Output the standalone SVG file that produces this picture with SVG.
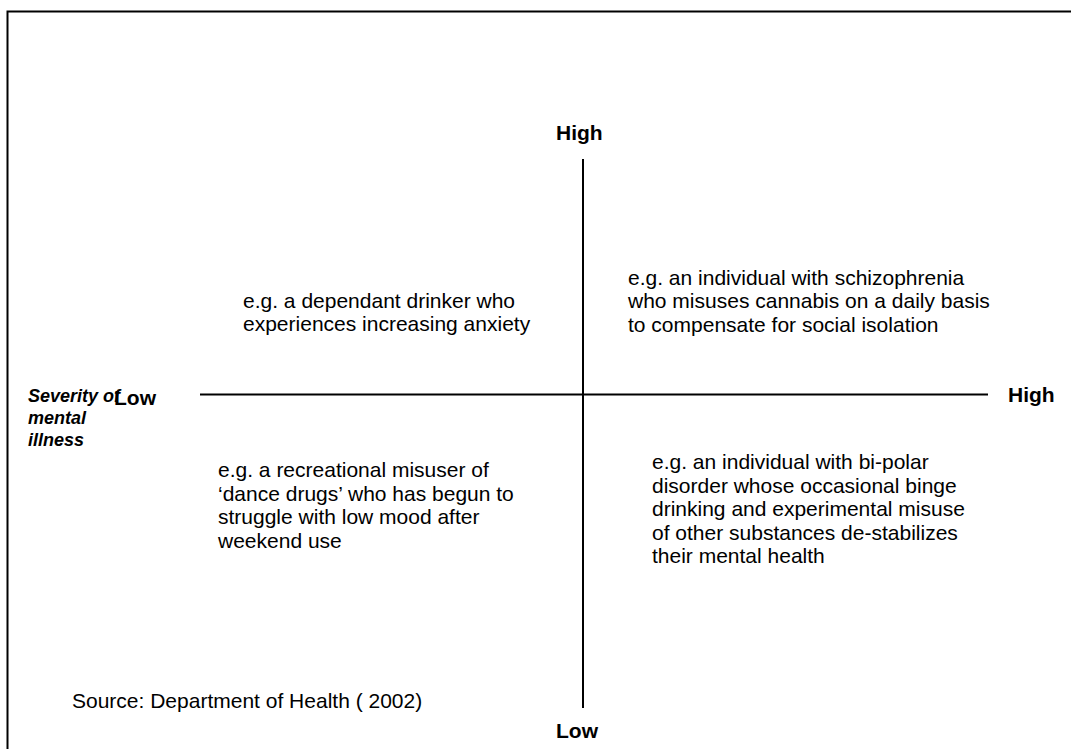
<svg xmlns="http://www.w3.org/2000/svg" width="1071" height="749" viewBox="0 0 1071 749">
  <style>
    .frame { fill: none; stroke: #000; stroke-width: 2; }
    .axis { stroke: #000; stroke-width: 2; fill: none; }
    .body { font-family: "Liberation Sans", Arial, sans-serif; font-size: 21px; fill: #000; }
    .axislabel { font-family: "Liberation Sans", Arial, sans-serif; font-size: 21px; font-weight: bold; fill: #000; }
    .title { font-family: "Liberation Sans", Arial, sans-serif; font-size: 18px; font-weight: bold; font-style: italic; fill: #000; }
  </style>
  <rect width="1071" height="749" fill="#fff"/>
  <!-- outer frame, running off the right and bottom edges -->
  <path class="frame" d="M7.5 760 V11.5 H1080"/>

  <!-- axes -->
  <g id="connectors">
    <line class="axis" x1="583" y1="159" x2="583" y2="708"/>
    <line class="axis" x1="200" y1="394.5" x2="988" y2="394.5"/>
  </g>

  <g id="label-top-high">
    <text class="axislabel" x="556" y="140">High</text>
  </g>
  <g id="label-bottom-low">
    <text class="axislabel" x="556" y="738">Low</text>
  </g>
  <g id="label-right-high">
    <text class="axislabel" x="1008" y="402">High</text>
  </g>
  <g id="label-left-low">
    <text class="axislabel" x="114" y="405">Low</text>
  </g>
  <g id="label-severity">
    <text class="title" x="28" y="402">Severity of</text>
    <text class="title" x="28" y="424">mental</text>
    <text class="title" x="28" y="446">illness</text>
  </g>

  <g id="quadrant-upper-left">
    <text class="body" x="243" y="307.5">e.g. a dependant drinker who</text>
    <text class="body" x="243" y="331">experiences increasing anxiety</text>
  </g>
  <g id="quadrant-upper-right">
    <text class="body" x="628" y="284.5">e.g. an individual with schizophrenia</text>
    <text class="body" x="628" y="308">who misuses cannabis on a daily basis</text>
    <text class="body" x="628" y="331.5">to compensate for social isolation</text>
  </g>
  <g id="quadrant-lower-left">
    <text class="body" x="218" y="477">e.g. a recreational misuser of</text>
    <text class="body" x="218" y="500.5">‘dance drugs’ who has begun to</text>
    <text class="body" x="218" y="524">struggle with low mood after</text>
    <text class="body" x="218" y="547.5">weekend use</text>
  </g>
  <g id="quadrant-lower-right">
    <text class="body" x="652" y="469">e.g. an individual with bi-polar</text>
    <text class="body" x="652" y="492.5">disorder whose occasional binge</text>
    <text class="body" x="652" y="516">drinking and experimental misuse</text>
    <text class="body" x="652" y="539.5">of other substances de-stabilizes</text>
    <text class="body" x="652" y="563">their mental health</text>
  </g>

  <g id="source-note">
    <text class="body" x="72" y="708">Source: Department of Health ( 2002)</text>
  </g>
</svg>
